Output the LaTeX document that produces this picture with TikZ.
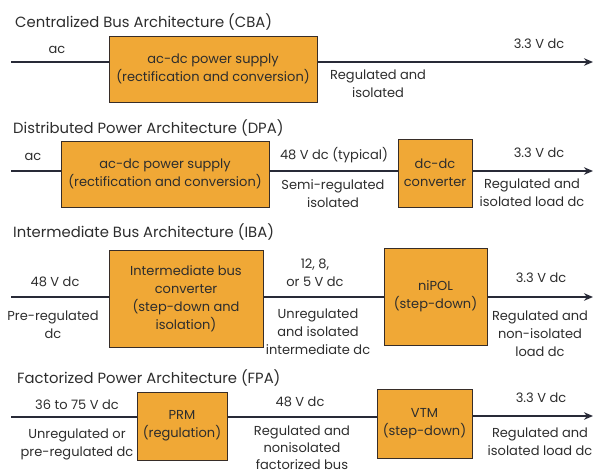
\documentclass[tikz,border=0pt]{standalone}
\usepackage{fontspec}
\setmainfont{Poppins}
\usetikzlibrary{arrows.meta}
\definecolor{boxfill}{RGB}{240,168,54}
\definecolor{boxline}{RGB}{55,45,40}
\definecolor{wirec}{RGB}{40,42,55}
\definecolor{txt}{RGB}{45,45,45}
\begin{document}
\begin{tikzpicture}[x=1pt,y=-1pt,
  lbl/.style={font=\fontsize{13}{18}\selectfont, text=txt, align=center, inner sep=0pt},
  ttl/.style={lbl, font=\fontsize{14.8}{18}\selectfont, anchor=west},
  blk/.style 2 args={lbl, draw=boxline, line width=1pt, fill=boxfill, minimum width=#1pt, minimum height=#2pt},
  wire/.style={draw=wirec, line width=1.7pt},
  arr/.style={wire, -{Stealth[length=9pt,width=7.5pt]}}]
\useasboundingbox (0,0) rectangle (595,475);

% ---------- CBA ----------
\node[ttl] (t1) at (15,22) {Centralized Bus Architecture (CBA)};
\coordinate (s1) at (11,62);
\coordinate (e1) at (593,62);
\node[blk={208}{66}] (a1) at (213,69) {ac-dc power supply\\(rectification and conversion)};
\node[lbl] (ac1) at (57,50) {ac};
\node[lbl] (o1) at (539,44) {3.3 V dc};
\node[lbl] (r1) at (378,83.5) {Regulated and\\isolated};
\draw[wire] (s1) -- (s1 -| a1.west);
\draw[arr] (a1.east |- s1) -- (e1);

% ---------- DPA ----------
\node[ttl] (t2) at (13,128) {Distributed Power Architecture (DPA)};
\coordinate (s2) at (11,171);
\coordinate (e2) at (593,171);
\node[blk={208}{66}] (a2) at (165,174) {ac-dc power supply\\(rectification and conversion)};
\node[blk={74}{68}] (b2) at (435,173) {dc-dc\\converter};
\node[lbl] (ac2) at (33,157) {ac};
\node[lbl] (m2) at (334,155) {48 V dc (typical)};
\node[lbl] (n2) at (333,194) {Semi-regulated\\isolated};
\node[lbl] (o2) at (539,153) {3.3 V dc};
\node[lbl] (r2) at (532,192.5) {Regulated and\\isolated load dc};
\draw[wire] (s2) -- (s2 -| a2.west);
\draw[wire] (a2.east |- s2) -- (b2.west |- s2);
\draw[arr] (b2.east |- s2) -- (e2);

% ---------- IBA ----------
\node[ttl] (t3) at (13,232) {Intermediate Bus Architecture (IBA)};
\coordinate (s3) at (11,297);
\coordinate (e3) at (593,297);
\node[blk={154}{97}] (a3) at (186,298.5) {Intermediate bus\\converter\\(step-down and\\isolation)};
\node[blk={103}{97}] (b3) at (435.5,296.5) {niPOL\\(step-down)};
\node[lbl] (i3) at (55,282) {48 V dc};
\node[lbl] (p3) at (53,325) {Pre-regulated\\dc};
\node[lbl] (m3) at (315,272.5) {12, 8,\\or 5 V dc};
\node[lbl] (n3) at (318,331.5) {Unregulated\\and isolated\\intermediate dc};
\node[lbl] (o3) at (541,278) {3.3 V dc};
\node[lbl] (r3) at (540,334) {Regulated and\\non-isolated\\load dc};
\draw[wire] (s3) -- (s3 -| a3.west);
\draw[wire] (a3.east |- s3) -- (b3.west |- s3);
\draw[arr] (b3.east |- s3) -- (e3);

% ---------- FPA ----------
\node[ttl] (t4) at (17,378) {Factorized Power Architecture (FPA)};
\coordinate (s4) at (11,417);
\coordinate (e4) at (593,416);
\node[blk={90}{68}] (a4) at (182,426) {PRM\\(regulation)};
\node[blk={95}{69}] (b4) at (424.5,423.5) {VTM\\(step-down)};
\node[lbl] (i4) at (77,405) {36 to 75 V dc};
\node[lbl] (p4) at (77,444) {Unregulated or\\pre-regulated dc};
\node[lbl] (m4) at (300,402) {48 V dc};
\node[lbl, font=\fontsize{13}{17}\selectfont] (n4) at (302,447.5) {Regulated and\\nonisolated\\factorized bus};
\node[lbl] (o4) at (541,398) {3.3 V dc};
\node[lbl] (r4) at (540,441.5) {Regulated and\\isolated load dc};
\draw[wire] (s4) -- (s4 -| a4.west);
\draw[wire] (a4.east |- s4) -- (b4.west |- s4);
\draw[arr] (b4.east |- e4) -- (e4);
\end{tikzpicture}
\end{document}
